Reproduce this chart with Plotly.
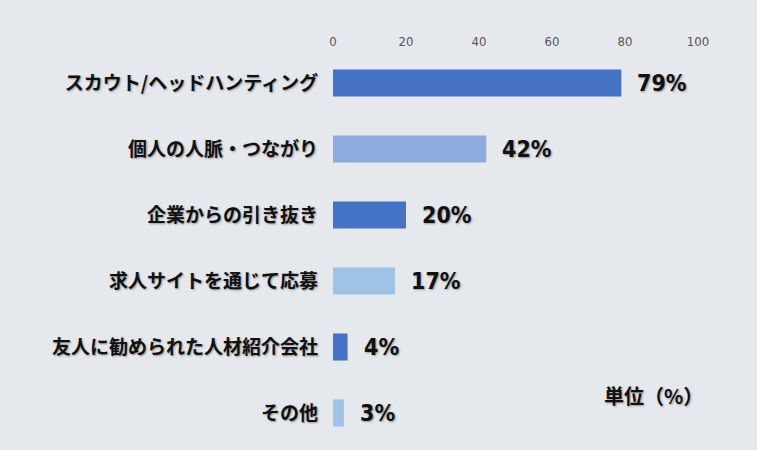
"""Horizontal bar chart: how people found their current job."""

import plotly.graph_objects as go

categories = [
    "スカウト/ヘッドハンティング",
    "個人の人脈・つながり",
    "企業からの引き抜き",
    "求人サイトを通じて応募",
    "友人に勧められた人材紹介会社",
    "その他",
]
values = [79, 42, 20, 17, 4, 3]
bar_colors = ["#4472C4", "#8FAADC", "#4472C4", "#9DC3E6", "#4472C4", "#9DC3E6"]
tick_vals = [0, 20, 40, 60, 80, 100]
unit_label = "単位（%）"

JP_FONT = "Noto Sans CJK JP"
NUM_FONT = "DejaVu Sans Condensed, Liberation Sans Narrow, Roboto, sans-serif"
SHADOW = "1px 1px 2px rgba(0,0,0,0.35)"


def main():
    fig = go.Figure(
        go.Bar(
            x=values,
            y=categories,
            orientation="h",
            marker=dict(color=bar_colors, line=dict(width=0)),
            width=0.41,
            hoverinfo="skip",
        )
    )

    for cat, val in zip(categories, values):
        fig.add_annotation(
            x=val,
            y=cat,
            text=f"{val}%",
            showarrow=False,
            xanchor="left",
            xshift=14,
            font=dict(family=NUM_FONT, size=23, color="#111111", weight="bold", shadow=SHADOW),
        )

    fig.add_annotation(
        x=1.02,
        y=0.085,
        xref="paper",
        yref="paper",
        text=unit_label,
        showarrow=False,
        xanchor="right",
        font=dict(family=JP_FONT, size=20, color="#111111", weight="bold", shadow=SHADOW),
    )

    fig.update_layout(
        width=757,
        height=450,
        margin=dict(l=333, r=59, t=50, b=4),
        paper_bgcolor="#e5e8ec",
        plot_bgcolor="rgba(0,0,0,0)",
        showlegend=False,
        xaxis=dict(
            side="top",
            range=[0, 100],
            tickvals=tick_vals,
            showgrid=False,
            zeroline=False,
            showline=False,
            ticks="",
            tickfont=dict(family=NUM_FONT, size=13, color="#555555"),
        ),
        yaxis=dict(
            autorange="reversed",
            showgrid=False,
            zeroline=False,
            showline=False,
            ticks="",
            ticklabelstandoff=14,
            tickfont=dict(family=JP_FONT, size=19, color="#111111", weight="bold", shadow=SHADOW),
        ),
    )

    # drop the page's default body margin so the figure fills the window
    fig.write_html(
        "out.html",
        config={"displayModeBar": False},
        post_script="document.body.style.margin='0';",
    )


if __name__ == "__main__":
    main()
